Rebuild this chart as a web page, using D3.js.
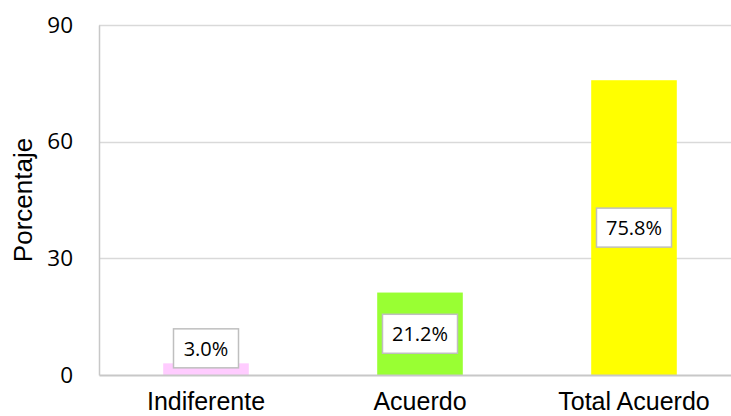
<!DOCTYPE html>
<html>
<head>
<meta charset="utf-8">
<script src="https://cdn.jsdelivr.net/npm/d3@7"></script>
<style>
  body { margin: 0; background: #fff; }
  svg { display: block; }
</style>
</head>
<body>
<div class="chart"></div>
<script>
var width = 731, height = 416;

var categories = ['Indiferente', 'Acuerdo', 'Total Acuerdo'];
var values = [3.0, 21.2, 75.8];
var colors = ['#ffccff', '#99ff33', '#ffff00'];
var yTicks = [0, 30, 60, 90];

var margin = { left: 99, top: 25, bottom: 41 };

var svg = d3.select('.chart')
	.append('svg')
	.attr('width', width)
	.attr('height', height);

var x = d3.scaleBand()
	.domain(categories)
	.range([margin.left, margin.left + 642])
	.paddingInner(0.6)
	.paddingOuter(0.3);

var y = d3.scaleLinear()
	.domain([0, 90])
	.range([height - margin.bottom, margin.top]);

// gridlines
svg.append('g')
	.selectAll('line')
	.data(yTicks.filter(function(d) { return d > 0; }))
	.enter().append('line')
	.attr('x1', margin.left)
	.attr('x2', width)
	.attr('y1', function(d) { return Math.round(y(d)) + 0.5; })
	.attr('y2', function(d) { return Math.round(y(d)) + 0.5; })
	.attr('stroke', '#d9d9d9')
	.attr('stroke-width', 1.5);

// y axis
var yAxis = svg.append('g')
	.attr('transform', 'translate(' + margin.left + ',0)')
	.call(d3.axisLeft(y).tickValues(yTicks).tickSize(0).tickPadding(26));
yAxis.select('.domain').attr('stroke', '#c8c8c8').attr('stroke-width', 1.5);
yAxis.selectAll('text')
	.style('font-family', '"Open Sans", sans-serif')
	.style('font-size', '22.5px')
	.attr('fill', '#000');

// bars
svg.append('g')
	.selectAll('rect')
	.data(values)
	.enter().append('rect')
	.attr('x', function(d, i) { return x(categories[i]); })
	.attr('y', function(d) { return y(d); })
	.attr('width', x.bandwidth())
	.attr('height', function(d) { return y(0) - y(d); })
	.attr('fill', function(d, i) { return colors[i]; });

// x axis
var xAxis = svg.append('g')
	.attr('transform', 'translate(0,' + y(0) + ')')
	.call(d3.axisBottom(x).tickSize(0).tickPadding(17));
xAxis.select('.domain').attr('stroke', '#c8c8c8').attr('stroke-width', 2);
xAxis.selectAll('text')
	.style('font-family', '"Liberation Sans", Arial, sans-serif')
	.style('font-size', '25px')
	.attr('fill', '#000');

// data labels
var labels = svg.append('g')
	.selectAll('g')
	.data(values)
	.enter().append('g')
	.attr('transform', function(d, i) {
		var cx = x(categories[i]) + x.bandwidth() / 2;
		var cy = (y(0) - y(d)) > 45 ? (y(0) + y(d)) / 2 : y(d) - 15;
		return 'translate(' + cx + ',' + cy + ')';
	});

labels.append('rect')
	.attr('x', function(d) { return d < 10 ? -32.5 : -37.5; })
	.attr('y', -19.5)
	.attr('width', function(d) { return d < 10 ? 65 : 75; })
	.attr('height', 39)
	.attr('fill', '#fff')
	.attr('stroke', '#bfbfbf')
	.attr('stroke-width', 1.5);

labels.append('text')
	.attr('text-anchor', 'middle')
	.attr('dy', '0.36em')
	.style('font-family', '"Open Sans", sans-serif')
	.style('font-size', '20px')
	.text(function(d) { return d.toFixed(1) + '%'; });

// axis title
svg.append('text')
	.attr('transform', 'translate(32,' + y(45) + ') rotate(-90)')
	.attr('text-anchor', 'middle')
	.style('font-family', '"Liberation Sans", Arial, sans-serif')
	.style('font-size', '26px')
	.text('Porcentaje');
</script>
</body>
</html>
